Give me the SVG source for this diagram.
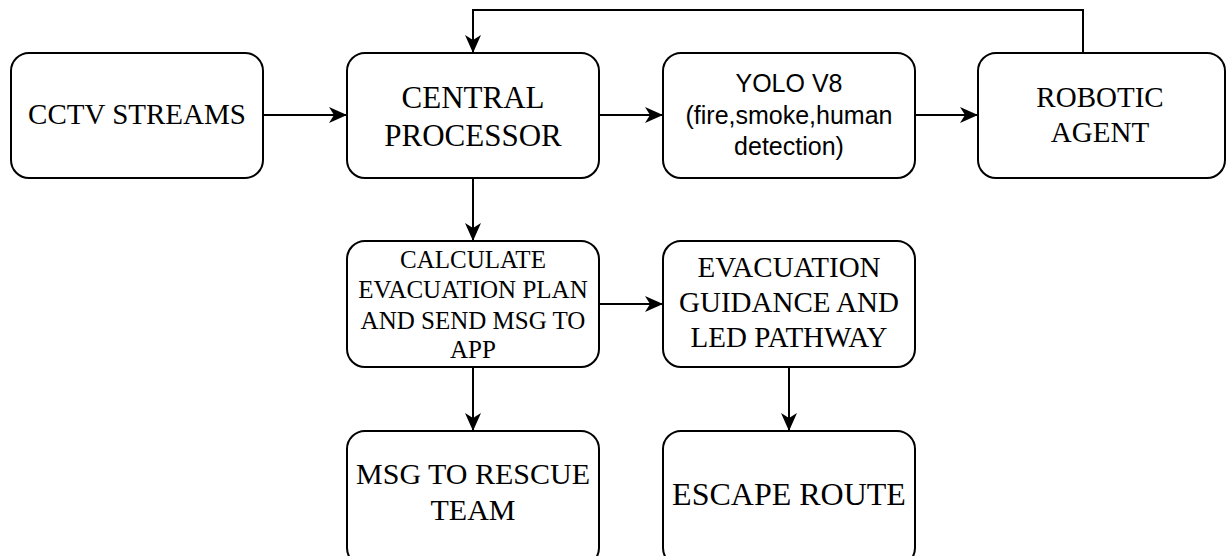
<svg xmlns="http://www.w3.org/2000/svg" width="1226" height="556" viewBox="0 0 1226 556">
<defs>
<marker id="arr" viewBox="0 0 18 16" refX="17" refY="8" markerWidth="18" markerHeight="16" markerUnits="userSpaceOnUse" orient="auto">
<path d="M0,0 L18,8 L0,16 L5,8 Z" fill="#000"/>
</marker>
</defs>
<style>
rect{fill:#fff;stroke:#000;stroke-width:2}
.s{font-family:"Liberation Serif",serif;fill:#000;text-anchor:middle}
.a{font-family:"Liberation Sans",sans-serif;fill:#000;text-anchor:middle}
#connectors path{fill:none;stroke:#000;stroke-width:2;marker-end:url(#arr)}
</style>
<rect x="0" y="0" width="1226" height="556" style="fill:#fff;stroke:none"/>
<g id="connectors">
<path d="M263,115 L346,115"/>
<path d="M599,115 L662,115"/>
<path d="M915,115 L977,115"/>
<path d="M1083,53 L1083,10 L473,10 L473,52"/>
<path d="M473,178 L473,240"/>
<path d="M599,304 L662,304"/>
<path d="M473,367 L473,430"/>
<path d="M789,367 L789,430"/>
</g>
<g id="cctv"><rect x="11" y="53" width="252" height="125" rx="18"/>
<text class="s" x="137" y="124" font-size="29">CCTV STREAMS</text></g>
<g id="central"><rect x="347" y="53" width="252" height="125" rx="18"/>
<text class="s" x="473" y="108" font-size="31">CENTRAL</text>
<text class="s" x="473" y="146" font-size="31">PROCESSOR</text></g>
<g id="yolo"><rect x="663" y="53" width="252" height="125" rx="18"/>
<text class="a" x="789" y="92" font-size="25">YOLO V8</text>
<text class="a" x="789" y="124" font-size="25">(fire,smoke,human</text>
<text class="a" x="789" y="155" font-size="25">detection)</text></g>
<g id="robotic"><rect x="978" y="53" width="247" height="125" rx="18"/>
<text class="s" x="1100" y="107" font-size="29">ROBOTIC</text>
<text class="s" x="1100" y="142" font-size="29">AGENT</text></g>
<g id="calculate"><rect x="347" y="241" width="252" height="126" rx="18"/>
<text class="s" x="473" y="268" font-size="25">CALCULATE</text>
<text class="s" x="473" y="298" font-size="25">EVACUATION PLAN</text>
<text class="s" x="473" y="329" font-size="25">AND SEND MSG TO</text>
<text class="s" x="473" y="358" font-size="25">APP</text></g>
<g id="guidance"><rect x="663" y="241" width="252" height="126" rx="18"/>
<text class="s" x="789" y="277" font-size="29">EVACUATION</text>
<text class="s" x="789" y="312" font-size="29">GUIDANCE AND</text>
<text class="s" x="789" y="347" font-size="29">LED PATHWAY</text></g>
<g id="msg"><rect x="347" y="431" width="252" height="135" rx="18"/>
<text class="s" x="473" y="484" font-size="30">MSG TO RESCUE</text>
<text class="s" x="473" y="520" font-size="30">TEAM</text></g>
<g id="escape"><rect x="663" y="431" width="252" height="135" rx="18"/>
<text class="s" x="789" y="505" font-size="32">ESCAPE ROUTE</text></g>
</svg>
